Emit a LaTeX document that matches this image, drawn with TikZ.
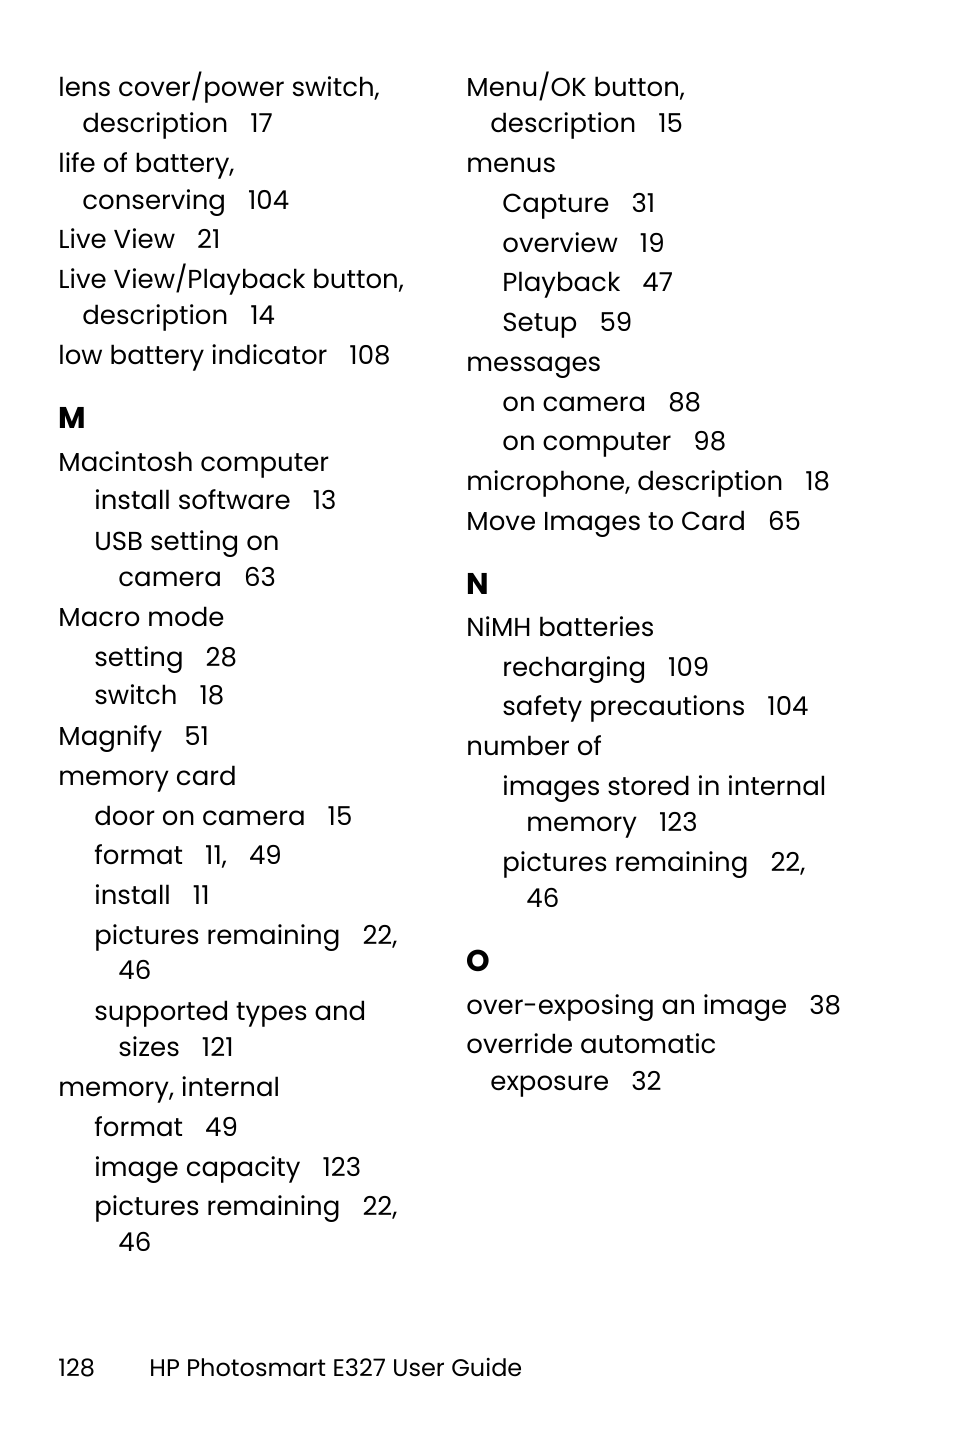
\documentclass[tikz,border=0pt]{standalone}
\usepackage{fontspec}
\setmainfont{Poppins}
\usepackage{tikz}

\newcommand\idxfont{\fontsize{13}{15}\selectfont}
\newcommand\pgap{\hspace{0.85em}}

\begin{document}
\begin{tikzpicture}[x=0.5pt,y=-0.5pt,
  entry/.style={anchor=base west,inner sep=0pt,yshift=-1pt,font=\idxfont},
  head/.style={entry,font=\fontsize{15}{17}\selectfont\bfseries},
  foot/.style={entry,font=\fontsize{12}{14}\selectfont}]
\useasboundingbox (0,0) rectangle (954,1431);

% left column
\node[entry] (lens) at (58,94) {lens cover/power switch,}; \node[entry] (lensd) at (82,130) {description\pgap 17};
\node[entry] (life) at (58,170) {life of battery,}; \node[entry] (lifec) at (82,207) {conserving\pgap 104};
\node[entry] (live) at (58,246) {Live View\pgap 21};
\node[entry] (livep) at (58,286) {Live View/Playback button,}; \node[entry] (livepd) at (82,322) {description\pgap 14};
\node[entry] (low) at (58,362) {low battery indicator\pgap 108};

\node[head] (M) at (58,426) {M};
\node[entry] (mac) at (58,469) {Macintosh computer};
\node[entry] (maci) at (94,507) {install software\pgap 13};
\node[entry] (macu) at (94,548) {USB setting on}; \node[entry] (macuc) at (118,584) {camera\pgap 63};
\node[entry] (macro) at (58,624) {Macro mode};
\node[entry] (macros) at (94,664) {setting\pgap 28};
\node[entry] (macrow) at (94,702) {switch\pgap 18};
\node[entry] (magn) at (58,743) {Magnify\pgap 51};
\node[entry] (mcard) at (58,783) {memory card};
\node[entry] (mcd) at (94,823) {door on camera\pgap 15};
\node[entry] (mcf) at (94,862) {format\pgap 11,\pgap 49};
\node[entry] (mci) at (94,902) {install\pgap 11};
\node[entry] (mcp) at (94,942) {pictures remaining\pgap 22,}; \node[entry] (mcpb) at (118,977) {46};
\node[entry] (mcs) at (94,1018) {supported types and}; \node[entry] (mcsb) at (118,1054) {sizes\pgap 121};
\node[entry] (mint) at (58,1094) {memory, internal};
\node[entry] (mif) at (94,1134) {format\pgap 49};
\node[entry] (micap) at (94,1174) {image capacity\pgap 123};
\node[entry] (mip) at (94,1213) {pictures remaining\pgap 22,}; \node[entry] (mipb) at (118,1249) {46};

% right column
\node[entry] (menu) at (466,94) {Menu/OK button,}; \node[entry] (menud) at (490,130) {description\pgap 15};
\node[entry] (menus) at (466,170) {menus};
\node[entry] (mcap) at (502,210) {Capture\pgap 31};
\node[entry] (mover) at (502,250) {overview\pgap 19};
\node[entry] (mplay) at (502,289) {Playback\pgap 47};
\node[entry] (mset) at (502,329) {Setup\pgap 59};
\node[entry] (msg) at (466,369) {messages};
\node[entry] (msgc) at (502,409) {on camera\pgap 88};
\node[entry] (msgp) at (502,448) {on computer\pgap 98};
\node[entry] (micro) at (466,488) {microphone, description\pgap 18};
\node[entry] (move) at (466,528) {Move Images to Card\pgap 65};

\node[head] (N) at (466,592) {N};
\node[entry] (nimh) at (466,634) {NiMH batteries};
\node[entry] (nimhr) at (502,674) {recharging\pgap 109};
\node[entry] (nimhs) at (502,713) {safety precautions\pgap 104};
\node[entry] (num) at (466,753) {number of};
\node[entry] (numi) at (502,793) {images stored in internal}; \node[entry] (numib) at (526,829) {memory\pgap 123};
\node[entry] (nump) at (502,869) {pictures remaining\pgap 22,}; \node[entry] (numpb) at (526,905) {46};

\node[head] (O) at (466,969) {O};
\node[entry] (overe) at (466,1012) {over-exposing an image\pgap 38};
\node[entry] (overr) at (466,1051) {override automatic}; \node[entry] (overrb) at (490,1088) {exposure\pgap 32};

% footer
\node[foot] (folio) at (58,1374) {128};
\node[foot] (guide) at (149,1374) {HP Photosmart E327 User Guide};
\end{tikzpicture}
\end{document}
